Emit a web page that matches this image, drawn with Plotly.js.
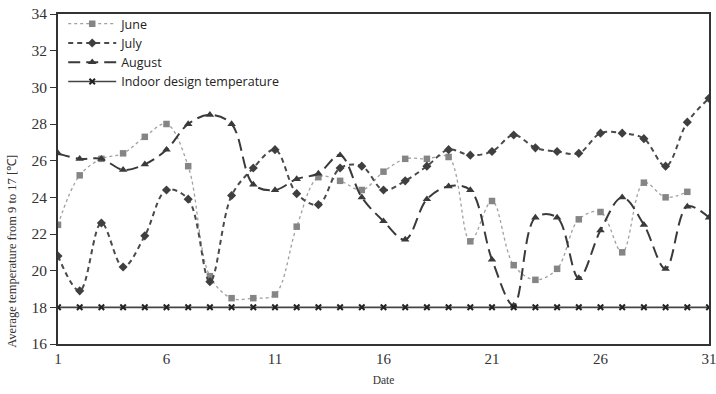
<!DOCTYPE html>
<html>
<head>
<meta charset="utf-8">
<script src="https://cdn.plot.ly/plotly-3.0.1.min.js"></script>
<style>html,body{margin:0;padding:0;background:#fff;}#chart{width:716px;height:394px;}</style>
</head>
<body>
<div id="chart"></div>
<script>
const days = Array.from({length: 31}, (_, i) => i + 1);
const juneDays = days.slice(0, 30);
const june = [22.5, 25.2, 26.1, 26.4, 27.3, 28.0, 25.7, 19.7, 18.5, 18.5,
              18.7, 22.4, 25.1, 24.9, 24.4, 25.4, 26.1, 26.1, 26.2, 21.6,
              23.8, 20.3, 19.5, 20.1, 22.8, 23.2, 21.0, 24.8, 24.0, 24.3];
const july = [20.8, 18.9, 22.6, 20.2, 21.9, 24.4, 23.9, 19.4, 24.1, 25.6,
              26.6, 24.2, 23.6, 25.6, 25.7, 24.4, 24.9, 25.7, 26.6, 26.3,
              26.5, 27.4, 26.7, 26.5, 26.4, 27.5, 27.5, 27.2, 25.7, 28.1, 29.4];
const august = [26.4, 26.1, 26.1, 25.5, 25.8, 26.6, 28.0, 28.5, 28.0, 24.7,
                24.4, 25.0, 25.3, 26.3, 24.0, 22.7, 21.7, 23.9, 24.6, 24.4,
                20.6, 18.1, 22.9, 22.9, 19.6, 22.2, 24.0, 22.5, 20.1, 23.5, 22.9];
const indoor = days.map(() => 18);
const xTicks = [1, 6, 11, 16, 21, 26, 31];
const yTicks = [16, 18, 20, 22, 24, 26, 28, 30, 32, 34];

const traces = [
  {x: juneDays, y: june, name: 'June', mode: 'lines+markers',
   line: {color: '#a0a0a0', dash: 'dot', width: 1.3, shape: 'spline'},
   marker: {symbol: 'square', size: 6.5, color: '#858585'}},
  {x: days, y: july, name: 'July', mode: 'lines+markers',
   line: {color: '#4a4a4a', dash: '5px,4px', width: 2, shape: 'spline'},
   marker: {symbol: 'diamond', size: 7, color: '#3f3f3f'}},
  {x: days, y: august, name: 'August', mode: 'lines+markers',
   line: {color: '#3a3a3a', dash: '12px,6px', width: 2, shape: 'spline'},
   marker: {symbol: 'triangle-up', size: 7.5, color: '#3a3a3a'}},
  {x: days, y: indoor, name: 'Indoor design temperature', mode: 'lines+markers',
   line: {color: '#444', width: 1.6},
   marker: {symbol: 'x-thin', size: 5.5, color: '#222', line: {width: 2, color: '#222'}}}
];

const layout = {
  width: 716, height: 394,
  margin: {l: 58, r: 7, t: 14, b: 50},
  paper_bgcolor: '#fff', plot_bgcolor: '#fff',
  showlegend: true,
  legend: {x: 0.008, y: 1.015, xanchor: 'left', yanchor: 'top', itemwidth: 48,
           bgcolor: 'rgba(0,0,0,0)', tracegroupgap: 0,
           font: {family: 'Open Sans, sans-serif', size: 12.5, color: '#222'}},
  xaxis: {range: [1, 31], tickvals: xTicks, ticktext: xTicks.map(String),
          ticklabeloverflow: 'allow',
          showgrid: false, zeroline: false, showline: true, linecolor: '#333', linewidth: 2,
          mirror: true, ticks: '', tickfont: {family: 'Liberation Serif, serif', size: 15, color: '#333'},
          title: {text: 'Date', font: {family: 'Liberation Serif, serif', size: 11.5, color: '#333'}, standoff: 10}},
  yaxis: {range: [16, 34], tickvals: yTicks, ticktext: yTicks.map(String),
          showgrid: false, zeroline: false, showline: true, linecolor: '#333', linewidth: 2,
          mirror: true, ticks: 'outside', ticklen: 6, tickcolor: '#333',
          tickfont: {family: 'Liberation Serif, serif', size: 15.5, color: '#333'}},
  annotations: [{
    text: 'Average temperature from 9 to 17 [℃]', textangle: -90,
    xref: 'paper', yref: 'paper', x: -0.072, y: 0.28, xanchor: 'center', yanchor: 'middle',
    showarrow: false, font: {family: 'Liberation Serif, serif', size: 12.5, color: '#333'}
  }]
};

Plotly.newPlot('chart', traces, layout, {displayModeBar: false, staticPlot: true});
</script>
</body>
</html>
